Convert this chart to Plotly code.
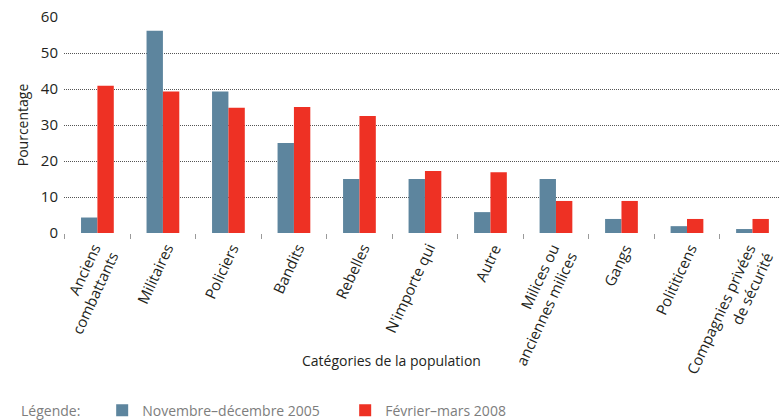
import plotly.graph_objects as go

# Données
categories = [
    "Anciens<br>combattants", "Militaires", "Policiers", "Bandits", "Rebelles",
    "N'importe qui", "Autre", "Milices ou<br>anciennes milices", "Gangs",
    "Polititicens", "Compagnies privées<br>de sécurité",
]
nov_dec_2005 = [4.3, 56.2, 39.3, 25, 15, 15, 5.8, 15, 3.9, 1.9, 1.1]
fev_mars_2008 = [40.9, 39.3, 34.8, 35, 32.5, 17.2, 16.9, 8.9, 8.9, 3.9, 3.9]
y_ticks = [0, 10, 20, 30, 40, 50, 60]

FONT = "Open Sans"
TEXT = "#231f20"
GREY = "#7d7d7d"

fig = go.Figure()
fig.add_trace(go.Bar(x=categories, y=nov_dec_2005, name="Novembre–décembre 2005",
                     marker_color="#5d859e", marker_line_width=0))
fig.add_trace(go.Bar(x=categories, y=fev_mars_2008, name="Février–mars 2008",
                     marker_color="#ee3124", marker_line_width=0))

# étiquettes de catégories inclinées, alignées à droite
annotations = []
for cat in categories:
    n = cat.count("<br>") + 1
    annotations.append(dict(
        x=cat, xref="x", y=0, yref="paper", text=cat, showarrow=False,
        textangle=-65, align="right", xanchor="right", yanchor="top",
        xshift=6 + 11 * n, yshift=-5,
        font=dict(family=FONT, size=15, color=TEXT),
    ))

annotations.append(dict(
    x=0.458, y=-0.588, xref="paper", yref="paper", text="Catégories de la population",
    showarrow=False, xanchor="center", yanchor="middle",
    font=dict(family=FONT, size=14, color=TEXT),
))
annotations.append(dict(
    x=-0.0628, y=-0.82, xref="paper", yref="paper", text="Légende:",
    showarrow=False, xanchor="left", yanchor="middle",
    font=dict(family=FONT, size=14, color=GREY),
))

fig.update_layout(
    width=780, height=420,
    margin=dict(l=64, r=0, t=17, b=187),
    plot_bgcolor="white", paper_bgcolor="white",
    barmode="group", bargap=0.5, bargroupgap=0,
    font=dict(family=FONT, size=14, color=TEXT),
    showlegend=True,
    legend=dict(
        orientation="h", xref="container", yref="container",
        x=0.131, y=0.022, xanchor="left", yanchor="middle",
        font=dict(family=FONT, size=14, color=GREY),
        entrywidth=198, entrywidthmode="pixels",
    ),
    annotations=annotations,
)

fig.update_xaxes(
    range=[-0.51, 10.42], showticklabels=False, showgrid=False, zeroline=False,
    ticks="outside", tickson="boundaries", ticklen=5, tickcolor="#9a9a9a", tickwidth=1,
    showline=False, automargin=False,
)
fig.update_yaxes(
    range=[0, 60], tickvals=y_ticks, showgrid=True, gridcolor="#555555",
    griddash="1px,1px", gridwidth=1, zeroline=False, showline=False,
    ticks="", ticklabelstandoff=5, automargin=False,
    tickfont=dict(family=FONT, size=15, color=TEXT),
    title=dict(text="Pourcentage", standoff=8, font=dict(family=FONT, size=14, color=TEXT)),
)

# la page par défaut a une marge de 8 px autour du graphique
fig.write_html("out.html", config={"displayModeBar": False},
               post_script="document.body.style.margin = '0';")
